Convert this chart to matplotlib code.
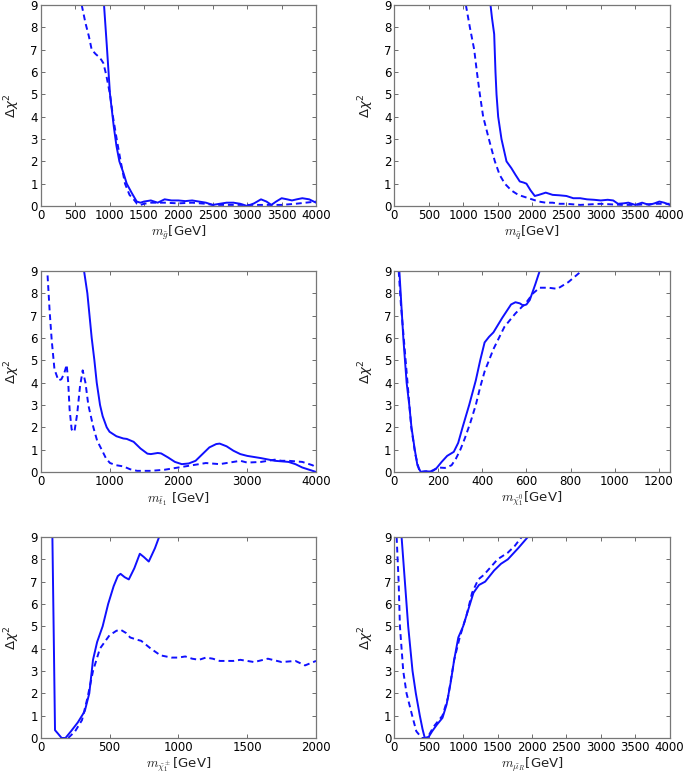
import numpy as np
import matplotlib.pyplot as plt

# gluino
gl_sx = [920, 960, 1007, 1060, 1100, 1143, 1200, 1250, 1320, 1395, 1450, 1500, 1600, 1700, 1800, 1900, 2000, 2100, 2200, 2300, 2400, 2500, 2600, 2700, 2800, 2900, 3000, 3100, 3200, 3280, 3350, 3420, 3500, 3580, 3650, 3720, 3800, 3900, 4000]
gl_sy = [9.0, 7.2, 5.0, 3.6, 2.7, 2.0, 1.5, 1.0, 0.6, 0.2, 0.15, 0.2, 0.25, 0.15, 0.3, 0.25, 0.25, 0.22, 0.25, 0.2, 0.15, 0.05, 0.1, 0.15, 0.15, 0.1, 0.0, 0.12, 0.3, 0.2, 0.05, 0.2, 0.35, 0.3, 0.25, 0.3, 0.35, 0.3, 0.15]
gl_dx = [596, 650, 700, 741, 800, 838, 880, 910, 950, 1007, 1050, 1104, 1162, 1225, 1290, 1350, 1400, 1450, 1500, 1600, 1800, 2000, 2200, 2400, 2500, 2800, 3000, 3200, 3500, 3700, 3850, 4000]
gl_dy = [9.0, 8.2, 7.6, 7.0, 6.8, 6.7, 6.55, 6.4, 5.9, 5.0, 4.0, 3.0, 2.0, 1.0, 0.5, 0.3, 0.1, 0.05, 0.1, 0.15, 0.15, 0.12, 0.15, 0.1, 0.05, 0.05, 0.05, 0.05, 0.05, 0.1, 0.15, 0.2]

# squark
sq_sx = [1398, 1420, 1451, 1470, 1485, 1509, 1557, 1630, 1700, 1760, 1823, 1880, 1920, 1980, 2041, 2100, 2200, 2300, 2400, 2500, 2600, 2700, 2800, 2900, 3000, 3100, 3180, 3250, 3330, 3400, 3500, 3600, 3700, 3780, 3850, 3920, 4000]
sq_sy = [9.0, 8.4, 7.7, 6.0, 5.0, 4.0, 3.0, 2.0, 1.7, 1.4, 1.1, 1.05, 1.0, 0.7, 0.45, 0.5, 0.6, 0.5, 0.48, 0.45, 0.35, 0.35, 0.3, 0.28, 0.25, 0.28, 0.25, 0.1, 0.12, 0.15, 0.05, 0.15, 0.05, 0.12, 0.2, 0.15, 0.05]
sq_dx = [1040, 1098, 1161, 1200, 1243, 1291, 1374, 1461, 1530, 1606, 1700, 1800, 1900, 2000, 2100, 2200, 2300, 2400, 2500, 2700, 3000, 3300, 3500, 3800, 4000]
sq_dy = [9.0, 8.0, 7.0, 6.0, 5.0, 4.0, 3.0, 2.0, 1.4, 1.0, 0.7, 0.5, 0.4, 0.3, 0.2, 0.15, 0.15, 0.1, 0.1, 0.05, 0.1, 0.05, 0.05, 0.1, 0.1]

# stop
st_sx = [630, 678, 741, 780, 814, 862, 900, 959, 1000, 1100, 1200, 1250, 1350, 1450, 1550, 1600, 1700, 1750, 1850, 1950, 2050, 2150, 2250, 2350, 2450, 2550, 2600, 2700, 2800, 2900, 3000, 3200, 3400, 3600, 3700, 3800, 3900, 4000]
st_sy = [9.0, 8.0, 6.0, 5.0, 4.0, 3.0, 2.5, 2.0, 1.8, 1.6, 1.5, 1.48, 1.35, 1.05, 0.82, 0.8, 0.85, 0.83, 0.65, 0.45, 0.35, 0.38, 0.5, 0.8, 1.1, 1.25, 1.27, 1.15, 0.95, 0.8, 0.72, 0.62, 0.5, 0.45, 0.35, 0.2, 0.1, 0.0]
st_dx = [100, 130, 160, 200, 257, 300, 340, 378, 400, 420, 450, 490, 530, 570, 610, 650, 692, 765, 820, 886, 950, 1007, 1100, 1200, 1300, 1400, 1600, 1800, 2000, 2200, 2400, 2600, 2800, 2900, 3000, 3200, 3400, 3500, 3600, 3800, 3950, 4000]
st_dy = [8.8, 7.2, 5.9, 4.6, 4.1, 4.15, 4.4, 4.8, 4.0, 2.8, 1.9, 1.8, 2.6, 3.8, 4.55, 4.0, 3.0, 2.0, 1.4, 1.0, 0.6, 0.4, 0.3, 0.25, 0.12, 0.05, 0.05, 0.1, 0.2, 0.3, 0.4, 0.35, 0.45, 0.5, 0.42, 0.45, 0.55, 0.5, 0.5, 0.45, 0.3, 0.2]

# neutralino
n1_sx = [23, 32, 41, 56, 68, 78, 93, 105, 120, 140, 160, 175, 190, 215, 240, 270, 290, 310, 340, 370, 390, 410, 430, 450, 490, 530, 550, 570, 585, 600, 615, 640, 660]
n1_sy = [9.0, 7.5, 6.0, 4.0, 3.0, 2.0, 1.0, 0.3, 0.0, 0.03, 0.02, 0.05, 0.15, 0.45, 0.72, 0.9, 1.3, 2.0, 3.0, 4.1, 5.0, 5.8, 6.05, 6.25, 6.9, 7.5, 7.6, 7.55, 7.45, 7.5, 7.7, 8.4, 9.0]
n1_dx = [20, 30, 43, 60, 77, 95, 115, 140, 170, 200, 230, 260, 280, 300, 320, 345, 370, 390, 410, 450, 500, 550, 600, 630, 660, 700, 740, 790, 850]
n1_dy = [9.0, 7.5, 6.0, 4.0, 2.0, 0.8, 0.0, 0.02, 0.05, 0.2, 0.18, 0.3, 0.6, 1.0, 1.5, 2.2, 3.0, 3.8, 4.5, 5.5, 6.5, 7.1, 7.6, 8.0, 8.25, 8.25, 8.2, 8.5, 9.0]

# chargino
c1_sx = [85, 95, 104, 125, 152, 180, 220, 270, 320, 353, 380, 410, 450, 490, 530, 560, 580, 610, 640, 680, 720, 750, 785, 830, 860]
c1_sy = [9.0, 4.5, 0.35, 0.2, 0.0, 0.0, 0.3, 0.7, 1.2, 2.0, 3.5, 4.3, 5.0, 6.0, 6.8, 7.25, 7.35, 7.2, 7.1, 7.6, 8.25, 8.1, 7.9, 8.5, 9.0]
c1_dx = [200, 250, 300, 340, 380, 430, 500, 550, 580, 620, 650, 700, 730, 800, 870, 950, 1000, 1050, 1100, 1150, 1200, 1250, 1300, 1400, 1450, 1550, 1650, 1750, 1850, 1920, 2000]
c1_dy = [0.0, 0.3, 0.8, 1.8, 3.0, 4.0, 4.6, 4.8, 4.85, 4.7, 4.5, 4.4, 4.35, 4.0, 3.7, 3.6, 3.6, 3.65, 3.55, 3.5, 3.6, 3.55, 3.45, 3.45, 3.5, 3.4, 3.55, 3.4, 3.45, 3.25, 3.45]

# smuon
mu_sx = [106, 154, 202, 265, 313, 371, 410, 443, 500, 550, 620, 700, 760, 820, 870, 930, 1000, 1080, 1150, 1230, 1320, 1450, 1550, 1650, 1800, 1940]
mu_sy = [9.0, 7.0, 5.0, 3.0, 2.0, 1.0, 0.4, 0.0, 0.05, 0.3, 0.6, 0.9, 1.5, 2.5, 3.5, 4.5, 5.0, 5.8, 6.5, 6.85, 7.0, 7.5, 7.8, 8.0, 8.5, 9.0]
mu_dx = [34, 63, 82, 130, 178, 260, 320, 400, 480, 570, 700, 780, 870, 950, 1050, 1130, 1220, 1300, 1500, 1650, 1750, 1850]
mu_dy = [9.0, 7.0, 5.0, 3.0, 2.0, 1.0, 0.3, 0.0, 0.0, 0.5, 1.0, 1.8, 3.5, 4.5, 5.5, 6.5, 7.1, 7.3, 8.0, 8.3, 8.6, 9.0]

panels = [
    (gl_sx, gl_sy, gl_dx, gl_dy, 4000, np.arange(0, 4001, 500), r'$m_{\tilde{g}}$[GeV]'),
    (sq_sx, sq_sy, sq_dx, sq_dy, 4000, np.arange(0, 4001, 500), r'$m_{\tilde{q}}$[GeV]'),
    (st_sx, st_sy, st_dx, st_dy, 4000, np.arange(0, 4001, 1000), r'$m_{\tilde{t}_1}$ [GeV]'),
    (n1_sx, n1_sy, n1_dx, n1_dy, 1250, np.arange(0, 1201, 200), r'$m_{\tilde{\chi}_1^0}$[GeV]'),
    (c1_sx, c1_sy, c1_dx, c1_dy, 2000, np.arange(0, 2001, 500), r'$m_{\tilde{\chi}_1^\pm}$[GeV]'),
    (mu_sx, mu_sy, mu_dx, mu_dy, 4000, np.arange(0, 4001, 500), r'$m_{\tilde{\mu}_R}$[GeV]'),
]

fig = plt.figure(figsize=(6.85, 7.76), dpi=100)
lefts = [0.0594, 0.5756]
bottoms = [0.7345, 0.3918, 0.049]
col = '#1010ff'

for i, (sx, sy, dx, dy, xmax, xt, lab) in enumerate(panels):
    ax = fig.add_axes([lefts[i % 2], bottoms[i // 2], 0.402, 0.259])
    ax.plot(sx, sy, '-', color=col, lw=1.4)
    ax.plot(dx, dy, '--', color=col, lw=1.4, dashes=(3, 2))
    ax.set_xlim(0, xmax)
    ax.set_ylim(0, 9)
    ax.set_xticks(xt)
    ax.set_yticks(range(10))
    ax.tick_params(direction='in', top=True, right=True, length=3, width=0.6,
                   color='#555555', labelsize=8.5, pad=2)
    for s in ax.spines.values():
        s.set_color('#777777')
        s.set_linewidth(0.9)
    ax.set_xlabel(lab, fontsize=9.5, labelpad=1.5, color='#222222', math_fontfamily='cm')
    ax.set_ylabel(r'$\Delta\chi^2$', fontsize=9.5, labelpad=6, color='#222222')

fig.savefig('out.png', dpi=100)
